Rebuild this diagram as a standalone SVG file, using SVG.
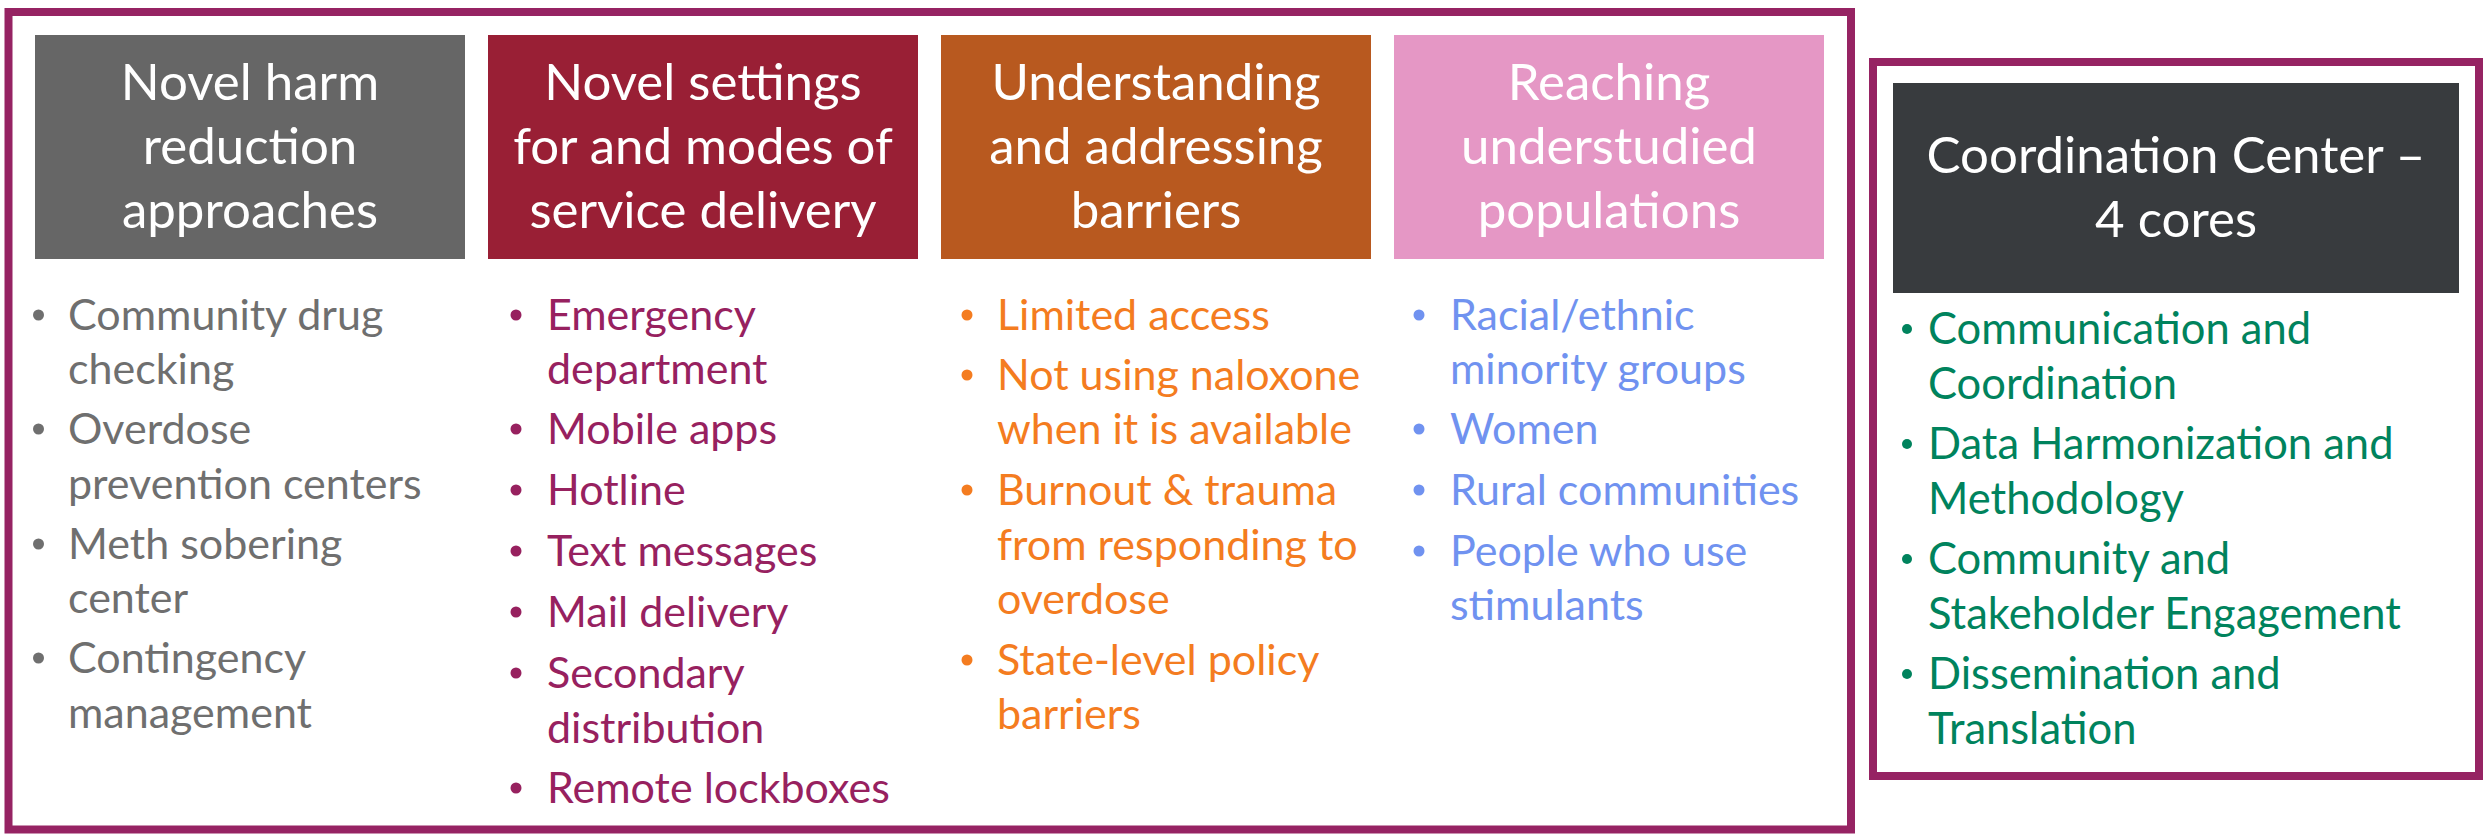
<svg xmlns="http://www.w3.org/2000/svg" width="2484" height="836" viewBox="0 0 2484 836">
<style>
.frame{fill:none;stroke:#962363;stroke-width:8}
.hd{font-family:Lato,"Liberation Sans",sans-serif;font-size:51px;fill:#ffffff;text-anchor:middle}
.bt{font-family:Lato,"Liberation Sans",sans-serif;font-size:43px}
.g5{font-size:43.5px}
.c1{fill:#6f6f6f}.c2{fill:#97215f}.c3{fill:#f47c20}.c4{fill:#7092f0}.c5{fill:#00835d}
</style>
<rect width="2484" height="836" fill="#ffffff"/>
<g id="frame-projects"><rect class="frame" x="8.5" y="12" width="1842.5" height="817.5"/></g>
<g id="frame-coordination"><rect class="frame" x="1873" y="62" width="606" height="714"/></g>
<g id="connectors"></g>

<g id="header-harm-reduction">
<rect x="35" y="35" width="430" height="224" fill="#666666"/>
<text class="hd" x="250" y="100">Novel harm</text>
<text class="hd" x="250" y="164">reduction</text>
<text class="hd" x="250" y="228">approaches</text>
</g>
<g id="header-settings">
<rect x="488" y="35" width="430" height="224" fill="#991f35"/>
<text class="hd" x="703" y="100">Novel settings</text>
<text class="hd" x="703" y="164">for and modes of</text>
<text class="hd" x="703" y="228">service delivery</text>
</g>
<g id="header-barriers">
<rect x="941" y="35" width="430" height="224" fill="#b8591f"/>
<text class="hd" x="1156" y="100">Understanding</text>
<text class="hd" x="1156" y="164">and addressing</text>
<text class="hd" x="1156" y="228">barriers</text>
</g>
<g id="header-populations">
<rect x="1394" y="35" width="430" height="224" fill="#e597c5"/>
<text class="hd" x="1609" y="100">Reaching</text>
<text class="hd" x="1609" y="164">understudied</text>
<text class="hd" x="1609" y="228">populations</text>
</g>
<g id="header-coordination">
<rect x="1893" y="83" width="566" height="210" fill="#383b3e"/>
<text class="hd" x="2176" y="173">Coordination Center –</text>
<text class="hd" x="2176" y="237">4 cores</text>
</g>

<g id="list-harm-reduction" class="bt c1">
<circle cx="38.5" cy="315" r="5.5"/><text x="68" y="330">Community drug</text><text x="68" y="384">checking</text>
<circle cx="38.5" cy="429" r="5.5"/><text x="68" y="444">Overdose</text><text x="68" y="499">prevention centers</text>
<circle cx="38.5" cy="544" r="5.5"/><text x="68" y="559">Meth sobering</text><text x="68" y="613">center</text>
<circle cx="38.5" cy="658" r="5.5"/><text x="68" y="673">Contingency</text><text x="68" y="728">management</text>
</g>
<g id="list-settings" class="bt c2">
<circle cx="516" cy="315" r="5.5"/><text x="547" y="330">Emergency</text><text x="547" y="384">department</text>
<circle cx="516" cy="429" r="5.5"/><text x="547" y="444">Mobile apps</text>
<circle cx="516" cy="490" r="5.5"/><text x="547" y="505">Hotline</text>
<circle cx="516" cy="551" r="5.5"/><text x="547" y="566">Text messages</text>
<circle cx="516" cy="612" r="5.5"/><text x="547" y="627">Mail delivery</text>
<circle cx="516" cy="673" r="5.5"/><text x="547" y="688">Secondary</text><text x="547" y="743">distribution</text>
<circle cx="516" cy="788" r="5.5"/><text x="547" y="803">Remote lockboxes</text>
</g>
<g id="list-barriers" class="bt c3">
<circle cx="967" cy="315" r="5.5"/><text x="997" y="330">Limited access</text>
<circle cx="967" cy="375" r="5.5"/><text x="997" y="390">Not using naloxone</text><text x="997" y="444">when it is available</text>
<circle cx="967" cy="490" r="5.5"/><text x="997" y="505">Burnout &amp; trauma</text><text x="997" y="560">from responding to</text><text x="997" y="614">overdose</text>
<circle cx="967" cy="660" r="5.5"/><text x="997" y="675">State-level policy</text><text x="997" y="729">barriers</text>
</g>
<g id="list-populations" class="bt c4">
<circle cx="1419" cy="315" r="5.5"/><text x="1450" y="330">Racial/ethnic</text><text x="1450" y="384">minority groups</text>
<circle cx="1419" cy="429" r="5.5"/><text x="1450" y="444">Women</text>
<circle cx="1419" cy="490" r="5.5"/><text x="1450" y="505">Rural communities</text>
<circle cx="1419" cy="551" r="5.5"/><text x="1450" y="566">People who use</text><text x="1450" y="620">stimulants</text>
</g>
<g id="list-coordination" class="bt g5 c5">
<circle cx="1907" cy="329" r="5"/><text x="1928" y="344">Communication and</text><text x="1928" y="399">Coordination</text>
<circle cx="1907" cy="444" r="5"/><text x="1928" y="459">Data Harmonization and</text><text x="1928" y="514">Methodology</text>
<circle cx="1907" cy="559" r="5"/><text x="1928" y="574">Community and</text><text x="1928" y="629">Stakeholder Engagement</text>
<circle cx="1907" cy="674" r="5"/><text x="1928" y="689">Dissemination and</text><text x="1928" y="744">Translation</text>
</g>
</svg>
